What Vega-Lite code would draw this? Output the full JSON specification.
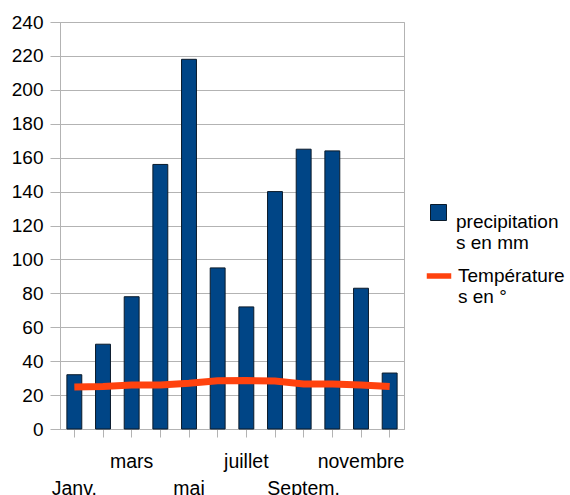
{
  "$schema": "https://vega.github.io/schema/vega-lite/v6.json",
  "width": 344,
  "height": 407,
  "autosize": {"type": "none"},
  "padding": {"left": 60, "top": 22, "right": 166, "bottom": 66},
  "background": "white",
  "config": {
    "font": "Liberation Sans",
    "view": {"stroke": "#b3b3b3", "strokeWidth": 1},
    "axis": {"labelFont": "Liberation Sans", "labelFontSize": 19, "labelColor": "#000000", "gridColor": "#b3b3b3", "tickColor": "#b3b3b3", "domainColor": "#b3b3b3", "title": null},
    "legend": {"labelFont": "Liberation Sans", "labelFontSize": 19, "labelColor": "#000000"}
  },
  "data": {
    "values": [
      {"mois": "Janv.", "precipitations": 32, "temperature": 24.7},
      {"mois": "février", "precipitations": 50, "temperature": 25},
      {"mois": "mars", "precipitations": 78, "temperature": 26},
      {"mois": "avril", "precipitations": 156, "temperature": 26},
      {"mois": "mai", "precipitations": 218, "temperature": 27},
      {"mois": "juin", "precipitations": 95, "temperature": 28.5},
      {"mois": "juillet", "precipitations": 72, "temperature": 28.6},
      {"mois": "août", "precipitations": 140, "temperature": 28.3},
      {"mois": "Septem.", "precipitations": 165, "temperature": 26.6},
      {"mois": "octobre", "precipitations": 164, "temperature": 26.6},
      {"mois": "novembre", "precipitations": 83, "temperature": 26},
      {"mois": "décembre", "precipitations": 33, "temperature": 25}
    ]
  },
  "encoding": {
    "x": {
      "field": "mois", "type": "nominal", "sort": null,
      "scale": {"paddingInner": 0.48, "paddingOuter": 0.24},
      "axis": {
        "labelAngle": 0, "labelFontSize": 19.5, "tickSize": 8, "labelPadding": 15, "labelBaseline": "top", "labelLineHeight": 27, "labelOverlap": false, "labelBound": false, "labelFlush": false,
        "labelExpr": "indexof(['Janv.','mai','Septem.'], datum.value) >= 0 ? ['', datum.value] : (indexof(['mars','juillet','novembre'], datum.value) >= 0 ? datum.value : '')"
      }
    }
  },
  "layer": [
    {
      "mark": {"type": "bar", "stroke": "#0a1a2a", "strokeWidth": 1},
      "encoding": {
        "y": {"field": "precipitations", "type": "quantitative", "scale": {"domain": [0, 240], "nice": false}, "axis": {"values": [0,20,40,60,80,100,120,140,160,180,200,220,240], "tickSize": 10, "labelPadding": 7, "grid": true, "labelOverlap": false, "labelFlush": false}},
        "fill": {"datum": "precipitations en mm", "scale": {"range": ["#004586"]}, "legend": {"orient": "none", "legendX": 369, "legendY": 181, "symbolType": "square", "symbolSize": 256, "symbolStrokeColor": "#0a1a2a", "symbolStrokeWidth": 1, "labelExpr": "['precipitation', 's en mm']", "labelBaseline": "top", "labelLineHeight": 28, "labelOffset": 8, "title": null}}
      }
    },
    {
      "mark": {"type": "line", "strokeWidth": 7},
      "encoding": {
        "y": {"field": "temperature", "type": "quantitative", "axis": {"values": [0,20,40,60,80,100,120,140,160,180,200,220,240], "tickSize": 10, "labelPadding": 7, "grid": true, "labelOverlap": false, "labelFlush": false}},
        "stroke": {"datum": "Températures en °", "scale": {"range": ["#ff420e"]}, "legend": {"orient": "none", "legendX": 364, "legendY": 239, "symbolType": "stroke", "symbolSize": 600, "symbolStrokeWidth": 5.5, "labelExpr": "['Température', 's en °']", "labelBaseline": "middle", "labelLineHeight": 26, "labelOffset": 4, "title": null}}
      }
    }
  ]
}
